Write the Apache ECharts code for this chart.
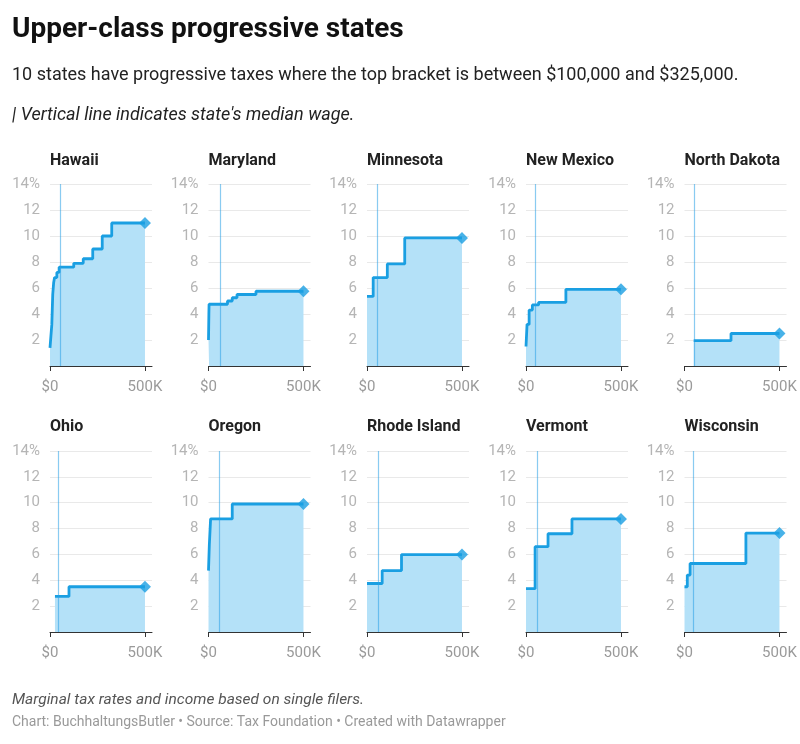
<!DOCTYPE html>
<html>
<head>
    <meta charset="utf-8">
    <title>Upper-class progressive states</title>
    <script src="https://cdn.jsdelivr.net/npm/echarts@6/dist/echarts.min.js"></script>
    <style>
        body { margin: 0; background: #fff; }
        #chart { width: 800px; height: 744px; }
    </style>
</head>
<body>
    <div id="chart"></div>
<script>

// state names, bracket starts (income $) and marginal rates (%), single filers
var states = ["Hawaii", "Maryland", "Minnesota", "New Mexico", "North Dakota",
              "Ohio", "Oregon", "Rhode Island", "Vermont", "Wisconsin"];

var bracketStart = [
    [0, 9600, 14400, 19200, 24000, 36000, 48000, 125000, 175000, 225000, 275000, 325000],
    [0, 1000, 2000, 3000, 100000, 125000, 150000, 250000],
    [0, 32570, 106990, 198630],
    [0, 5500, 16500, 33500, 66500, 210000],
    [48475, 244825],
    [26050, 100000],
    [0, 4400, 11050, 125000],
    [0, 79900, 181650],
    [0, 47900, 116000, 242000],
    [0, 14680, 29370, 323290]
];

var bracketRate = [
    [1.4, 3.2, 5.5, 6.4, 6.8, 7.2, 7.6, 7.9, 8.25, 9, 10, 11],
    [2, 3, 4, 4.75, 5, 5.25, 5.5, 5.75],
    [5.35, 6.8, 7.85, 9.85],
    [1.5, 3.2, 4.3, 4.7, 4.9, 5.9],
    [1.95, 2.5],
    [2.75, 3.5],
    [4.75, 6.75, 8.75, 9.9],
    [3.75, 4.75, 5.99],
    [3.35, 6.6, 7.6, 8.75],
    [3.5, 4.4, 5.3, 7.65]
];

// median wage per state (vertical line)
var medianWage = [52500, 61000, 55500, 49000, 52000, 44000, 56000, 57000, 57000, 47000];

var incomeEnd = 500000;
var xTicks = [0, 500000];
var xTickLabels = ["$0", "500K"];

var lineColor = "#1a9fe2";
var fillColor = "#b4e1f8";
var medianColor = "rgba(40,160,230,0.55)";

var colLeft = [50, 208.5, 367, 526, 684.5];
var rowTop = [184, 451];
var gridW = 102;
var gridH = 182;

var myChart = echarts.init(document.getElementById('chart'));

var grids = [], xAxes = [], yAxes = [], series = [], titles = [];

for (var i = 0; i < states.length; i++) {
    var col = i % 5, row = Math.floor(i / 5);
    grids.push({ left: colLeft[col], top: rowTop[row], width: gridW, height: gridH - row });

    xAxes.push({
        gridIndex: i, type: 'value', min: 0, max: 537000,
        axisLine: { show: true, lineStyle: { color: '#333', width: 1 } },
        axisTick: { show: true, customValues: xTicks, length: 5, lineStyle: { color: '#333' } },
        axisLabel: {
            customValues: xTicks, margin: 14, color: '#9a9a9a', fontSize: 15,
            fontFamily: 'Roboto',
            formatter: function (v) { return xTickLabels[xTicks.indexOf(v)]; }
        },
        splitLine: { show: false }
    });

    yAxes.push({
        gridIndex: i, type: 'value', min: 0, max: 14, interval: 2,
        axisLine: { show: false }, axisTick: { show: false },
        axisLabel: {
            margin: 10, color: '#b5b5b5', fontSize: 15, fontFamily: 'Roboto',
            formatter: function (v) { return v === 0 ? '' : (v === 14 ? '14%' : v); }
        },
        splitLine: { lineStyle: { color: '#e9e9e9', width: 1 } }
    });

    var pts = [];
    for (var k = 0; k < bracketStart[i].length; k++) {
        pts.push([bracketStart[i][k], bracketRate[i][k]]);
    }
    var topRate = bracketRate[i][bracketRate[i].length - 1];
    pts.push([incomeEnd, topRate]);

    series.push({
        type: 'line', xAxisIndex: i, yAxisIndex: i, step: 'end',
        data: pts, symbol: 'none', silent: true,
        lineStyle: { color: lineColor, width: 2.8 },
        areaStyle: { color: fillColor, opacity: 1 },
        markLine: {
            silent: true, symbol: 'none', label: { show: false },
            lineStyle: { color: medianColor, width: 1.2, type: 'solid' },
            data: [{ xAxis: medianWage[i] }]
        },
        z: 2
    });
    series.push({
        type: 'scatter', xAxisIndex: i, yAxisIndex: i,
        data: [[incomeEnd, topRate]], symbol: 'diamond', symbolSize: 12,
        itemStyle: { color: lineColor }, silent: true, z: 3
    });

    titles.push({
        text: states[i], left: colLeft[col], top: row === 0 ? 153 : 419, padding: 0,
        textStyle: { fontFamily: 'Roboto', fontWeight: 'bold', fontSize: 16, color: '#222' }
    });
}

var option = {
    animation: false,
    title: titles,
    grid: grids,
    xAxis: xAxes,
    yAxis: yAxes,
    series: series,
    graphic: [
        { type: 'text', left: 12, top: 16,
          style: { text: 'Upper-class progressive states', fontFamily: 'Roboto', fontWeight: 'bold',
                   fontSize: 28, fill: '#111' } },
        { type: 'text', left: 12, top: 66,
          style: { text: '10 states have progressive taxes where the top bracket is between $100,000 and $325,000.',
                   fontFamily: 'Roboto', fontSize: 18, fill: '#222' } },
        { type: 'text', left: 12, top: 106,
          style: { text: "| Vertical line indicates state's median wage.",
                   fontFamily: 'Roboto', fontStyle: 'italic', fontSize: 18, fill: '#222' } },
        { type: 'text', left: 12, top: 692,
          style: { text: 'Marginal tax rates and income based on single filers.',
                   fontFamily: 'Roboto', fontStyle: 'italic', fontSize: 15.5, fill: '#555' } },
        { type: 'text', left: 12, top: 715,
          style: { text: 'Chart: BuchhaltungsButler \u2022 Source: Tax Foundation \u2022 Created with Datawrapper',
                   fontFamily: 'Roboto', fontSize: 14, fill: '#999' } }
    ]
};

myChart.setOption(option);

</script>
</body>
</html>
